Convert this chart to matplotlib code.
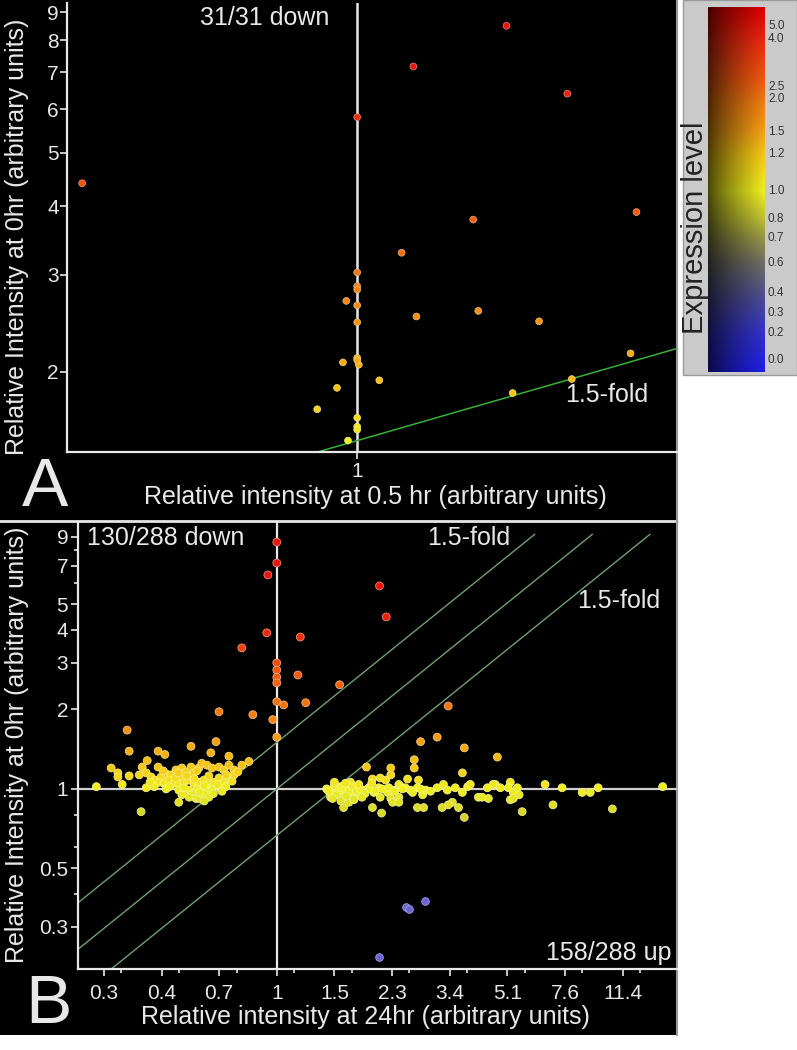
import numpy as np
import matplotlib
matplotlib.use('Agg')
import matplotlib.pyplot as plt
from matplotlib.colors import LinearSegmentedColormap
from matplotlib.patches import Rectangle
from matplotlib.ticker import FixedLocator, FixedFormatter, NullFormatter

plt.rcParams['font.family'] = ['Liberation Sans', 'DejaVu Sans']

W, H = 797, 1050

# ---- colour scale (Expression level) ----
cb_vals = [0.0, 0.2, 0.3, 0.4, 0.6, 0.7, 0.8, 1.0, 1.2, 1.5, 2.0, 2.5, 4.0, 5.0]
cb_pos = [0.033, 0.107, 0.162, 0.216, 0.299, 0.367, 0.419, 0.496, 0.597, 0.658, 0.748, 0.781, 0.912, 0.948]
cb_labels = ['0.0', '0.2', '0.3', '0.4', '0.6', '0.7', '0.8', '1.0', '1.2', '1.5', '2.0', '2.5', '4.0', '5.0']
cmap_stops = [(0.0, '#1e1ee6'), (0.107, '#3232c8'), (0.216, '#50508c'), (0.299, '#6e6e64'),
              (0.367, '#969646'), (0.419, '#bebe32'), (0.496, '#f0f01e'), (0.597, '#f5c814'),
              (0.658, '#f5a014'), (0.748, '#f0780f'), (0.781, '#f0640f'), (0.912, '#eb280f'),
              (1.0, '#dc0000')]

# ---- panel A: 0.5 hr vs 0 hr ----
a_x = [0.718, 1.0, 1.07, 1.197, 1.288, 1.40, 1.15, 1.055, 1.157, 1.074, 1.245, 1.39, 1.295, 1.206, 1.027,
       1.0, 1.0, 1.0, 0.987, 1.0, 1.0, 1.0, 1.002, 0.983, 0.976, 0.953, 1.0, 1.0, 1.0, 0.989, 1.0]
a_y = [4.4, 5.8, 7.17, 8.5, 6.4, 3.9, 3.78, 3.29, 2.58, 2.52, 2.47, 2.16, 1.94, 1.83, 1.93,
       3.03, 2.86, 2.82, 2.69, 2.64, 2.46, 2.12, 2.06, 2.08, 1.87, 1.71, 1.65, 1.59, 1.57, 1.50, 2.10]

# ---- panel B: 24 hr vs 0 hr ----
b_upper = [(1.0, 8.6), (1.0, 7.17), (0.939, 6.46), (2.06, 5.87), (2.16, 4.48), (0.932, 3.9), (1.18, 3.76),
           (0.782, 3.42), (1.0, 3.0), (1.0, 2.82), (1.0, 2.65), (1.0, 2.52), (1.16, 2.70), (1.556, 2.48),
           (1.0, 2.14), (1.05, 2.08), (1.226, 2.12), (0.666, 1.96), (0.845, 1.91), (0.972, 1.83), (1.0, 1.57),
           (3.34, 2.06), (3.09, 1.57), (2.75, 1.51), (3.74, 1.43), (4.72, 1.32), (2.63, 1.29), (2.63, 1.20),
           (3.69, 1.15), (2.23, 1.20), (1.88, 1.21),
           (0.349, 1.67), (0.354, 1.39), (0.434, 1.39), (0.455, 1.35), (0.547, 1.45), (0.652, 1.51),
           (0.629, 1.37), (0.714, 1.33)]
b_left = [(0.312, 1.20), (0.327, 1.15), (0.327, 1.11), (0.354, 1.12), (0.337, 1.04), (0.281, 1.02),
          (0.402, 1.28), (0.388, 1.21), (0.434, 1.21), (0.380, 1.13), (0.399, 1.15), (0.413, 1.11),
          (0.425, 1.08), (0.443, 1.11), (0.459, 1.14), (0.475, 1.13), (0.492, 1.18), (0.502, 1.11),
          (0.513, 1.20), (0.528, 1.16), (0.547, 1.21), (0.558, 1.15), (0.578, 1.20), (0.590, 1.25),
          (0.612, 1.23), (0.634, 1.20), (0.666, 1.21), (0.689, 1.18), (0.714, 1.23), (0.740, 1.18),
          (0.782, 1.23), (0.822, 1.27), (0.437, 1.06), (0.452, 1.05), (0.469, 1.08), (0.485, 1.05),
          (0.502, 1.04), (0.521, 1.06), (0.539, 1.08), (0.558, 1.05), (0.578, 1.06), (0.599, 1.08),
          (0.620, 1.05), (0.643, 1.06), (0.666, 1.10), (0.689, 1.06), (0.714, 1.10), (0.740, 1.13),
          (0.399, 1.01), (0.422, 1.02), (0.459, 1.00), (0.502, 0.99), (0.539, 0.99), (0.570, 1.00),
          (0.608, 1.01), (0.634, 0.99), (0.675, 1.00), (0.699, 1.02), (0.513, 0.95), (0.547, 0.95),
          (0.566, 0.92), (0.608, 0.95), (0.502, 0.89), (0.578, 0.92), (0.620, 0.93), (0.385, 0.82),
          (0.47, 1.02), (0.49, 1.10), (0.53, 1.12), (0.56, 1.09), (0.60, 1.03), (0.62, 1.12), (0.66, 1.04),
          (0.70, 1.13), (0.45, 1.17), (0.52, 1.01), (0.58, 0.97), (0.64, 0.96), (0.41, 1.06), (0.54, 0.93),
          (0.60, 0.90), (0.68, 0.98), (0.73, 1.07), (0.76, 1.16), (0.50, 1.15), (0.57, 1.17)]
b_right = [(2.23, 1.13), (1.96, 1.09), (2.07, 1.10), (2.15, 1.08), (2.51, 1.09), (2.71, 1.08), (2.36, 1.04),
           (1.68, 1.06), (1.567, 1.02), (1.49, 0.99), (1.46, 0.97), (1.46, 0.93), (1.53, 0.97), (1.60, 0.97),
           (1.60, 0.93), (1.68, 0.97), (1.74, 1.01), (1.77, 0.95), (1.84, 0.99), (1.91, 1.01), (1.98, 0.97),
           (2.05, 1.01), (2.07, 0.93), (2.18, 0.97), (2.23, 0.92), (2.26, 0.89), (2.30, 0.99), (2.36, 0.93),
           (2.39, 1.02), (2.47, 1.01), (2.56, 0.99), (2.69, 1.01), (2.79, 0.95), (2.85, 0.99), (2.69, 0.85),
           (2.81, 0.85), (1.60, 0.85), (1.66, 0.89), (1.72, 0.92), (1.96, 0.85), (2.09, 0.81), (2.36, 0.89),
           (3.09, 1.01), (3.23, 1.04), (3.32, 0.99), (3.51, 1.01), (3.69, 0.97), (3.83, 1.02), (3.90, 1.04),
           (3.44, 0.89), (3.59, 0.85), (3.74, 0.78), (4.13, 0.93), (4.40, 1.01), (4.43, 0.92), (4.65, 1.04),
           (4.58, 1.04), (4.24, 0.93), (4.82, 1.01), (5.17, 1.06), (5.10, 1.01), (5.28, 0.97), (5.43, 1.01),
           (5.50, 0.95), (5.17, 0.91), (5.28, 0.92), (5.62, 0.82), (6.60, 1.04), (7.44, 1.01), (6.98, 0.87),
           (8.57, 0.97), (9.07, 0.97), (9.59, 1.01), (10.6, 0.84), (15.1, 1.02), (3.34, 0.87), (3.20, 0.85),
           (1.42, 1.00), (1.44, 0.98), (1.50, 1.03), (1.55, 0.99), (1.58, 1.01), (1.62, 1.00), (1.66, 0.98),
           (1.70, 1.02), (1.75, 0.98), (1.80, 1.00), (1.86, 0.96), (1.93, 1.00), (2.00, 0.98), (2.10, 1.00),
           (2.20, 1.01), (2.28, 0.98), (2.42, 1.00), (2.60, 0.97), (2.75, 1.00), (2.95, 0.98), (1.52, 0.95),
           (1.48, 0.92), (1.57, 0.90), (1.63, 0.94), (1.72, 0.91), (1.82, 0.93), (1.50, 1.06), (1.62, 1.05),
           (1.78, 1.04), (1.95, 1.05)]
b_low = [(2.49, 0.357), (2.53, 0.351), (2.83, 0.377), (2.05, 0.231)]

b_xticks = [1.5 ** k for k in range(-3, 7)]
b_xlabels = ['0.3', '0.4', '0.7', '1', '1.5', '2.3', '3.4', '5.1', '7.6', '11.4']
b_yticks = [0.3, 0.5, 1, 2, 3, 4, 5, 7, 9]
b_yminor = [0.4, 0.6, 0.8, 6, 8]
a_yticks = [2, 3, 4, 5, 6, 7, 8, 9]
folds = [1.5, 1.0, 1 / 1.5]


def fx(px):
    return px / W


def fy(py):
    return 1 - py / H


cmap = LinearSegmentedColormap.from_list('expr', [(p, c) for p, c in cmap_stops])


def level_colors(levels):
    f = np.interp(levels, cb_vals, cb_pos)
    face = cmap(f)
    edge = face.copy()
    edge[:, :3] = face[:, :3] * 0.55 + 0.45
    return face, edge


fig = plt.figure(figsize=(W / 100, H / 100), dpi=100, facecolor='white')

# black panels (behind everything)
bg = fig.add_axes([0, 0, 1, 1], zorder=-10)
bg.set_axis_off()
bg.set_xlim(0, W)
bg.set_ylim(H, 0)
bg.add_patch(Rectangle((0, 0), 677, 520, facecolor='black', edgecolor='none'))
bg.add_patch(Rectangle((0, 520), 677, 515, facecolor='black', edgecolor='none'))
bg.plot([0, 677], [521, 521], color='#e6e6e6', lw=2)
bg.plot([677, 677], [0, 1035], color='#9a9a9a', lw=1.5)
bg.add_patch(Rectangle((683, 0), 114, 375, facecolor='#cacaca', edgecolor='#9a9a9a', lw=1))

white = '#e8e8e8'


def style_axes(ax):
    ax.set_facecolor('none')
    for s in ['top', 'right']:
        ax.spines[s].set_visible(False)
    for s in ['left', 'bottom']:
        ax.spines[s].set_color(white)
        ax.spines[s].set_linewidth(1.6)
    ax.tick_params(which='both', colors=white, labelcolor=white, labelsize=15, direction='out', width=1.2)
    ax.tick_params(which='major', length=5)
    ax.tick_params(which='minor', length=3)


# ---- panel A ----
axA = fig.add_axes([fx(67), fy(452), fx(677) - fx(67), fy(3) - fy(452)])
axA.set_xscale('log')
axA.set_yscale('log')
axA.set_xlim(0.705, 1.47)
axA.set_ylim(1.43, 9.35)
style_axes(axA)
axA.xaxis.set_major_locator(FixedLocator([1]))
axA.xaxis.set_major_formatter(FixedFormatter(['1']))
axA.xaxis.set_minor_locator(FixedLocator([]))
axA.yaxis.set_major_locator(FixedLocator(a_yticks))
axA.yaxis.set_major_formatter(FixedFormatter([str(v) for v in a_yticks]))
axA.yaxis.set_minor_locator(FixedLocator([]))
axA.tick_params(axis='y', pad=1)
axA.tick_params(axis='x', pad=2)
axA.axvline(1, color=white, lw=1.8, zorder=1)
lx = np.array([0.705, 1.47])
axA.plot(lx, 1.5 * lx, color='#36b036', lw=1.1, zorder=2)
fa, ea = level_colors(np.array(a_y) / 1.5)
axA.scatter(a_x, a_y, s=24, c=fa, edgecolors=ea, linewidths=0.5, zorder=3)

# ---- panel B ----
axB = fig.add_axes([fx(78), fy(969), fx(677) - fx(78), fy(522) - fy(969)])
axB.set_xscale('log')
axB.set_yscale('log')
axB.set_xlim(0.247, 16.7)
axB.set_ylim(0.208, 10.25)
style_axes(axB)
axB.xaxis.set_major_locator(FixedLocator(b_xticks))
axB.xaxis.set_major_formatter(FixedFormatter(b_xlabels))
axB.xaxis.set_minor_locator(FixedLocator([t * 1.13 for t in b_xticks]))
axB.xaxis.set_minor_formatter(NullFormatter())
axB.yaxis.set_major_locator(FixedLocator(b_yticks))
axB.yaxis.set_major_formatter(FixedFormatter([str(v) for v in b_yticks]))
axB.yaxis.set_minor_locator(FixedLocator(b_yminor))
axB.yaxis.set_minor_formatter(NullFormatter())
axB.tick_params(axis='x', pad=6)
axB.tick_params(axis='y', pad=2)
axB.axvline(1, color=white, lw=1.6, zorder=1)
axB.axhline(1, color='#cfcfcf', lw=1.6, zorder=1)
for f in folds:
    xs = np.array([0.247, 9.2 / f])
    axB.plot(xs, f * xs, color='#6fa06f', lw=1.0, zorder=2)

for pts in [b_left, b_right, b_upper]:
    px = [p[0] for p in pts]
    py = np.array([p[1] for p in pts])
    lev = np.where(py < 1, np.sqrt(py), py)
    fb, eb = level_colors(lev)
    axB.scatter(px, py, s=32, c=fb, edgecolors=eb, linewidths=0.6, zorder=3)
axB.scatter([p[0] for p in b_low], [p[1] for p in b_low], s=30, c='#6a64d2',
            edgecolors='#a8a4f0', linewidths=0.6, zorder=3)

# ---- texts ----
tkw = dict(color=white, fontsize=18)
fig.text(fx(265), fy(18), '31/31 down', ha='center', va='center', **tkw)
fig.text(fx(607), fy(395), '1.5-fold', ha='center', va='center', **tkw)
fig.text(fx(45), fy(488), 'A', ha='center', va='center', color=white, fontsize=50)
fig.text(fx(375), fy(497), 'Relative intensity at 0.5 hr (arbitrary units)', ha='center', va='center', **tkw)
fig.text(fx(17), fy(237), 'Relative Intensity at 0hr (arbitrary units)', rotation=90,
         ha='center', va='center', **tkw)

fig.text(fx(87), fy(538), '130/288 down', ha='left', va='center', **tkw)
fig.text(fx(469), fy(538), '1.5-fold', ha='center', va='center', **tkw)
fig.text(fx(619), fy(601), '1.5-fold', ha='center', va='center', **tkw)
fig.text(fx(672), fy(953), '158/288 up', ha='right', va='center', **tkw)
fig.text(fx(48), fy(1005), 'B', ha='center', va='center', color=white, fontsize=50)
fig.text(fx(365), fy(1017), 'Relative intensity at 24hr (arbitrary units)', ha='center', va='center', **tkw)
fig.text(fx(17), fy(745), 'Relative Intensity at 0hr (arbitrary units)', rotation=90,
         ha='center', va='center', **tkw)

# ---- colour bar ----
cax = fig.add_axes([fx(708), fy(372), fx(765) - fx(708), fy(7) - fy(372)])
rows = cmap(np.linspace(0, 1, 256))[:, :3]
shade = 0.3 + 0.7 * np.linspace(0, 1, 40) ** 0.8
grad = rows[:, None, :] * shade[None, :, None]
cax.imshow(grad, origin='lower', aspect='auto', extent=[0, 1, 0, 1])
cax.set_axis_off()
for v, p, lab in zip(cb_vals, cb_pos, cb_labels):
    yy = fy(372) + p * (fy(7) - fy(372))
    fig.text(fx(768), yy, lab, ha='left', va='center', fontsize=8.5, color='#333333')
fig.text(fx(695), fy(228), 'Expression level', rotation=90, ha='center', va='center',
         fontsize=21, color='#222222')

fig.savefig('out.png', dpi=100, facecolor='white')
